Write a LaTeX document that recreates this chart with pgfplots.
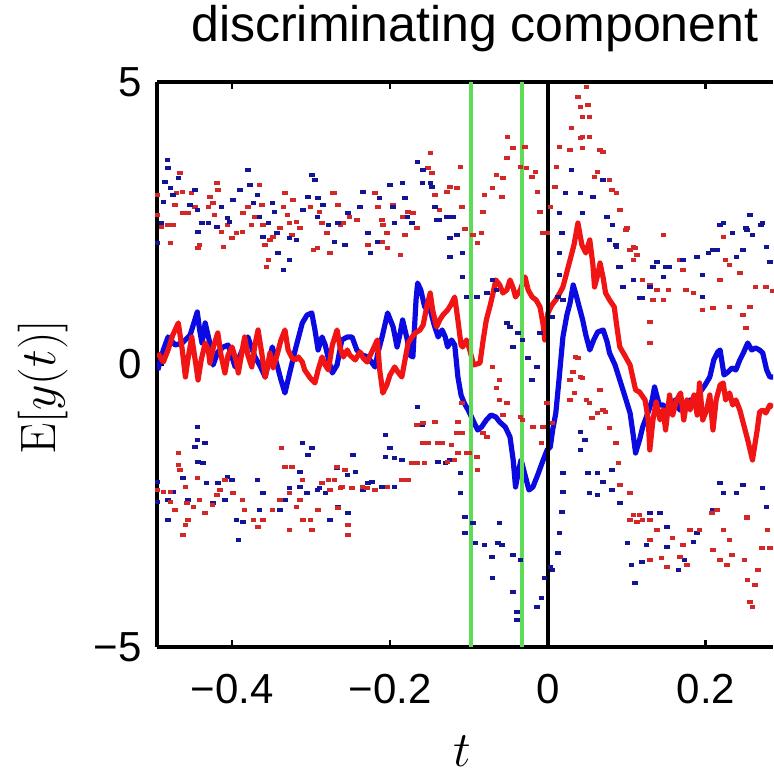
\documentclass[border=0pt]{standalone}
\usepackage[no-math]{fontspec}
\setmainfont{Liberation Sans}
\usepackage{pgfplots}
\pgfplotsset{compat=1.18}
\definecolor{lred}{RGB}{240,20,20}
\definecolor{lblue}{RGB}{10,10,225}
\definecolor{dred}{RGB}{210,40,40}
\definecolor{dblue}{RGB}{20,20,150}
\definecolor{vgreen}{RGB}{95,220,85}
\begin{document}
\begin{tikzpicture}
\begin{axis}[
  at={(0,0)}, anchor=south west,
  scale only axis, width=308pt, height=282.5pt,
  xmin=-0.495, xmax=0.285, ymin=-5, ymax=5,
  axis y line*=left,
  axis line style={line width=1.6pt, black},
  xtick={-0.4,-0.2,0,0.2}, xticklabels={−0.4,−0.2,0,0.2},
  ytick={-5,0,5}, yticklabels={−5,0,5},
  tick align=inside, major tick length=3.5pt,
  tick style={line width=1.4pt, black},
  xticklabel style={font=\fontsize{21}{24}\selectfont, anchor=base, inner sep=0pt, yshift=-28pt},
  yticklabel style={font=\fontsize{21}{24}\selectfont, anchor=east, inner sep=0pt, xshift=-7.5pt},
  title={discriminating component},
  title style={at={(axis description cs:0.516,1)}, anchor=base, yshift=14pt, font=\fontsize{25}{30}\selectfont},
  xlabel={$t$},
  xlabel style={at={(axis description cs:0.495,0)}, anchor=base, yshift=-59.5pt, font=\fontsize{28}{32}\selectfont},
  ylabel={$\mathrm{E}[y(t)]$},
  ylabel style={at={(axis description cs:-0.165,0.46)}, anchor=base, font=\fontsize{29}{33}\selectfont},
  every axis plot/.append style={line join=round},
]
% red upper band
\addplot[only marks, mark=square*, mark size=0.85pt, dred, mark options={xscale=1.3, line width=0pt}] coordinates {
(-0.494,3.00) (-0.494,2.65) (-0.489,2.43) (-0.481,2.47) (-0.475,2.47) (-0.466,3.39) (-0.470,3.04) (-0.463,3.05)
(-0.472,2.82) (-0.478,2.15) (-0.462,2.68) (-0.456,2.68) (-0.451,3.04) (-0.447,2.79) (-0.443,2.06) (-0.441,2.12)
(-0.428,2.96) (-0.430,2.79) (-0.424,2.86) (-0.419,3.21) (-0.418,3.09) (-0.422,2.65) (-0.413,2.35) (-0.411,2.08)
(-0.406,2.47) (-0.400,2.24) (-0.394,2.33) (-0.387,2.35) (-0.386,2.68) (-0.380,2.79) (-0.375,2.47) (-0.371,2.61)
(-0.365,3.18) (-0.362,2.82) (-0.361,2.47) (-0.358,2.12) (-0.354,1.85) (-0.356,1.73) (-0.352,2.20) (-0.348,2.26)
(-0.339,2.42) (-0.335,2.79) (-0.333,3.04) (-0.330,2.65) (-0.327,2.50) (-0.324,2.29) (-0.323,2.91) (-0.318,2.52)
(-0.314,2.42) (-0.301,2.79) (-0.297,2.03) (-0.292,2.06) (-0.289,2.70) (-0.286,2.50) (-0.280,2.33) (-0.276,1.97)
(-0.272,3.04) (-0.270,3.04) (-0.266,2.82) (-0.263,2.47) (-0.259,2.50) (-0.251,2.61) (-0.242,2.56) (-0.228,2.12)
(-0.219,3.04) (-0.215,2.79) (-0.210,2.56) (-0.209,2.47) (-0.210,2.17) (-0.204,2.33) (-0.203,2.06) (-0.197,2.79)
(-0.196,2.82) (-0.187,1.94) (-0.184,2.61) (-0.181,2.29) (-0.177,2.70) (-0.171,2.68) (-0.166,2.42) (-0.152,3.48)
(-0.149,3.74) (-0.147,3.39) (-0.143,3.00) (-0.137,2.73) (-0.128,3.05) (-0.124,3.14) (-0.115,3.12) (-0.111,3.50)
(-0.109,2.79) (-0.105,2.40) (-0.095,2.29) (-0.084,2.33) (-0.089,2.15) (-0.082,2.70) (-0.080,3.00) (-0.070,3.12)
(-0.065,3.35) (-0.057,3.30) (-0.058,2.96) (-0.052,3.65) (-0.051,4.03) (-0.044,3.83) (-0.035,3.50) (-0.029,3.85)
(-0.027,3.48) (-0.020,3.32) (-0.016,3.41) (-0.013,3.05) (-0.010,2.70) (-0.006,2.33) (-0.001,2.33) (0.003,2.79)
(0.009,3.14) (0.011,3.50) (0.015,3.85) (0.028,3.80) (0.030,4.19) (0.038,4.73) (0.041,4.56) (0.041,4.01)
(0.044,4.38) (0.044,4.03) (0.044,3.83) (0.049,4.91) (0.051,4.59) (0.053,4.38) (0.053,4.03) (0.059,3.32)
(0.063,3.41) (0.066,3.80) (0.070,3.76) (0.078,3.27) (0.081,3.09) (0.087,3.04) (0.091,2.73) (0.099,2.38)
(0.100,2.42) (0.104,2.03) (0.108,2.08) (0.108,1.85) (0.111,2.06) (0.113,1.94) (0.120,1.50) (0.129,1.41)
(0.129,0.75) (0.129,0.38) (0.133,1.14) (0.138,1.32) (0.146,1.14) (0.146,2.29) (0.153,1.32) (0.167,1.85)
(0.171,1.67) (0.175,1.32) (0.184,1.27) (0.196,0.96) (0.209,1.00) (0.218,1.50) (0.222,2.26) (0.225,1.85)
(0.230,1.02) (0.230,1.76) (0.243,1.62) (0.247,0.88) (0.251,0.65) (0.256,1.02) (0.263,1.37) (0.276,1.37) (0.284,1.30)
};
% blue upper band
\addplot[only marks, mark=square*, mark size=0.85pt, dblue, mark options={xscale=1.3, line width=0pt}] coordinates {
(-0.482,3.62) (-0.481,3.48) (-0.485,3.23) (-0.478,3.12) (-0.468,3.30) (-0.475,3.00) (-0.487,2.88) (-0.489,2.50)
(-0.494,2.15) (-0.453,2.82) (-0.444,2.73) (-0.447,3.09) (-0.438,2.50) (-0.443,2.35) (-0.430,2.50) (-0.419,2.43)
(-0.413,2.79) (-0.406,2.59) (-0.403,2.52) (-0.399,2.91) (-0.390,3.09) (-0.380,3.44) (-0.377,3.18) (-0.368,3.00)
(-0.373,2.86) (-0.365,2.61) (-0.361,2.26) (-0.354,2.50) (-0.349,2.86) (-0.346,2.70) (-0.343,2.33) (-0.342,1.97)
(-0.327,1.85) (-0.335,1.67) (-0.327,2.24) (-0.318,2.20) (-0.310,2.73) (-0.304,2.96) (-0.299,3.35) (-0.295,3.27)
(-0.291,2.95) (-0.292,2.61) (-0.285,2.82) (-0.278,2.47) (-0.270,2.17) (-0.266,2.50) (-0.257,2.12) (-0.253,2.68)
(-0.234,3.05) (-0.238,2.79) (-0.228,2.33) (-0.216,2.17) (-0.225,1.97) (-0.213,2.95) (-0.200,3.18) (-0.196,2.79)
(-0.194,2.50) (-0.184,3.21) (-0.181,2.95) (-0.178,2.61) (-0.172,2.50) (-0.165,3.58) (-0.158,3.44) (-0.159,3.21)
(-0.149,3.21) (-0.147,3.14) (-0.143,2.79) (-0.141,2.56) (-0.137,2.56) (-0.128,2.61) (-0.120,2.61) (-0.124,2.24)
(-0.115,2.29) (-0.124,1.90) (-0.108,1.97) (-0.108,1.55) (-0.103,1.19) (-0.090,1.19) (-0.077,1.27) (-0.070,1.50)
(-0.065,1.32) (-0.052,0.73) (-0.048,0.66) (-0.038,0.56) (-0.044,0.31) (-0.032,0.43) (-0.025,0.12) (-0.014,-0.04)
(-0.020,-0.27) (-0.010,0.56) (0.006,0.84) (0.019,1.14) (0.013,1.19) (0.015,1.58) (0.015,1.97) (0.018,2.33)
(0.015,2.68) (0.022,3.04) (0.030,3.44) (0.041,3.04) (0.044,2.68) (0.057,2.96) (0.070,3.27) (0.075,2.61)
(0.082,2.47) (0.078,2.20) (0.086,2.12) (0.087,2.08) (0.089,1.73) (0.091,1.73) (0.095,1.37) (0.108,1.50)
(0.116,1.18) (0.120,1.18) (0.129,1.37) (0.133,1.73) (0.138,1.81) (0.146,1.55) (0.149,1.73) (0.154,1.73)
(0.171,1.85) (0.189,1.90) (0.196,1.58) (0.196,1.19) (0.203,1.97) (0.209,2.03) (0.214,2.03) (0.218,2.47)
(0.222,2.50) (0.234,2.33) (0.239,1.90) (0.247,2.03) (0.251,2.42) (0.252,2.38) (0.256,2.65) (0.259,2.29)
(0.270,2.47) (0.272,2.50) (0.277,2.08) (0.281,1.81)
};
% blue lower band
\addplot[only marks, mark=square*, mark size=0.85pt, dblue, mark options={xscale=1.3, line width=0pt}] coordinates {
(-0.444,-1.11) (-0.444,-1.34) (-0.447,-1.46) (-0.434,-1.39) (-0.443,-1.73) (-0.437,-1.74) (-0.494,-2.08) (-0.462,-2.01)
(-0.475,-2.26) (-0.481,-2.40) (-0.494,-2.43) (-0.456,-2.40) (-0.432,-2.10) (-0.424,-2.45) (-0.418,-2.10) (-0.406,-1.99)
(-0.400,-2.04) (-0.409,-2.40) (-0.481,-2.75) (-0.394,-2.75) (-0.386,-2.79) (-0.392,-3.11) (-0.368,-2.04) (-0.361,-2.27)
(-0.365,-2.58) (-0.361,-2.75) (-0.339,-2.58) (-0.333,-2.40) (-0.327,-2.19) (-0.314,-2.17) (-0.311,-1.39) (-0.304,-1.60)
(-0.299,-1.48) (-0.314,-1.90) (-0.305,-2.27) (-0.292,-2.22) (-0.282,-2.27) (-0.276,-2.75) (-0.266,-2.52) (-0.254,-1.96)
(-0.253,-2.63) (-0.289,-2.19) (-0.267,-1.83) (-0.247,-1.60) (-0.244,-1.90) (-0.228,-2.10) (-0.223,-2.08) (-0.234,-2.22)
(-0.210,-2.17) (-0.206,-1.25) (-0.206,-1.64) (-0.200,-1.48) (-0.194,-1.65) (-0.185,-1.69) (-0.194,-2.17) (-0.165,-0.75)
(-0.159,-1.07) (-0.139,-1.73) (-0.130,-1.74) (-0.124,-1.69) (-0.111,-1.92) (-0.111,-2.27) (-0.105,-2.70) (-0.095,-2.81)
(-0.105,-2.98) (-0.092,-3.16) (-0.080,-3.19) (-0.071,-3.41) (-0.070,-3.78) (-0.063,-3.16) (-0.061,-2.81) (-0.058,-3.19)
(-0.044,-4.03) (-0.044,-3.37) (-0.039,-4.38) (-0.039,-4.52) (-0.035,-3.46) (-0.014,-4.29) (-0.008,-4.13) (-0.004,-3.78)
(0.003,-3.58) (0.013,-3.34) (0.006,-3.64) (0.015,-2.98) (0.018,-2.61) (0.019,-2.26) (0.019,-1.92) (0.041,-1.19)
(0.047,-1.34) (0.041,-1.51) (0.051,-1.92) (0.063,-1.92) (0.053,-2.27) (0.063,-2.31) (0.070,-2.08) (0.081,-1.87)
(0.081,-2.22) (0.091,-2.45) (0.101,-3.16) (0.106,-3.55) (0.110,-3.87) (0.119,-3.50) (0.125,-3.19) (0.129,-2.63)
(0.142,-2.63) (0.151,-2.88) (0.151,-3.23) (0.165,-3.64) (0.173,-3.46) (0.184,-3.14) (0.189,-2.98) (0.209,-2.58)
(0.218,-2.10) (0.222,-2.27) (0.239,-2.27) (0.247,-2.13) (0.272,-2.19) (0.277,-2.52)
};
% red lower band
\addplot[only marks, mark=square*, mark size=0.85pt, dred, mark options={xscale=1.3, line width=0pt}] coordinates {
(-0.494,-2.22) (-0.487,-2.26) (-0.478,-2.26) (-0.468,-1.57) (-0.468,-1.78) (-0.466,-1.87) (-0.459,-2.17) (-0.472,-2.58)
(-0.478,-2.43) (-0.459,-2.84) (-0.456,-2.75) (-0.462,-3.02) (-0.457,-2.45) (-0.444,-2.01) (-0.449,-2.52) (-0.441,-2.40)
(-0.434,-2.63) (-0.425,-2.49) (-0.419,-2.31) (-0.415,-2.22) (-0.409,-2.04) (-0.399,-2.27) (-0.387,-2.40) (-0.384,-2.58)
(-0.373,-2.75) (-0.367,-2.88) (-0.361,-2.75) (-0.349,-2.58) (-0.339,-2.40) (-0.327,-2.27) (-0.327,-2.93) (-0.318,-2.52)
(-0.314,-2.40) (-0.310,-2.75) (-0.301,-2.75) (-0.299,-2.93) (-0.291,-2.58) (-0.286,-2.10) (-0.276,-2.22) (-0.270,-2.04)
(-0.263,-2.19) (-0.257,-1.87) (-0.266,-2.54) (-0.253,-2.84) (-0.253,-3.02) (-0.337,-1.48) (-0.333,-1.81) (-0.324,-1.81)
(-0.311,-2.04) (-0.278,-2.04) (-0.267,-1.81) (-0.261,-2.17) (-0.248,-2.19) (-0.235,-2.17) (-0.229,-2.19) (-0.219,-2.22)
(-0.203,-2.17) (-0.185,-2.04) (-0.177,-2.04) (-0.172,-1.74) (-0.165,-1.74) (-0.156,-1.74) (-0.159,-1.39) (-0.152,-1.39)
(-0.143,-1.02) (-0.139,-1.39) (-0.134,-1.39) (-0.122,-1.42) (-0.127,-1.73) (-0.118,-1.69) (-0.114,-1.57) (-0.115,-1.21)
(-0.114,-1.02) (-0.109,-0.68) (-0.166,-1.07) (-0.158,-1.04) (-0.108,-1.21) (-0.103,-1.57) (-0.099,-1.57) (-0.090,-1.64)
(-0.089,-1.87) (-0.082,-1.21) (-0.077,-1.28) (-0.070,-0.04) (-0.061,-0.27) (-0.065,-0.42) (-0.061,-0.63) (-0.052,-0.68)
(-0.057,-0.89) (-0.035,-0.93) (-0.032,-0.98) (-0.019,-1.11) (-0.006,-1.11) (-0.008,-1.39) (-0.001,-0.68) (0.006,-1.04)
(0.028,-0.27) (0.028,-0.63) (0.032,-0.13) (0.035,0.13) (0.038,0.12) (0.034,-0.50) (0.041,-0.22) (0.044,-0.24)
(0.049,-0.63) (0.053,-0.68) (0.056,-0.95) (0.063,-0.86) (0.066,-0.45) (0.070,-0.81) (0.073,-0.84) (0.078,-1.12)
(0.086,-1.39) (0.089,-1.74) (0.091,-2.13) (0.104,-2.27) (0.104,-2.75) (0.108,-2.66) (0.113,-2.79) (0.116,-2.66)
(0.120,-2.75) (0.129,-2.75) (0.129,-3.11) (0.129,-3.46) (0.138,-2.93) (0.144,-3.42) (0.151,-3.58) (0.158,-3.07)
(0.167,-3.41) (0.171,-3.19) (0.176,-3.55) (0.180,-2.93) (0.192,-2.93) (0.208,-2.63) (0.214,-2.58) (0.209,-3.28)
(0.218,-3.46) (0.222,-2.93) (0.227,-3.55) (0.230,-3.11) (0.233,-3.37) (0.249,-3.46) (0.252,-2.71) (0.253,-3.81)
(0.256,-4.20) (0.259,-4.29) (0.262,-3.90) (0.266,-3.64) (0.271,-3.25) (0.278,-2.93) (0.281,-3.25)
};
% blue mean
\addplot[lblue, line width=2.6pt] coordinates {
(-0.494,-0.097) (-0.487,0.257) (-0.481,0.487) (-0.472,0.345) (-0.463,0.381) (-0.453,0.522) (-0.444,0.929) (-0.441,0.611)
(-0.438,0.381) (-0.434,0.735) (-0.429,0.434) (-0.424,-0.009) (-0.418,0.221) (-0.411,0.310) (-0.405,0.345) (-0.396,-0.044)
(-0.387,0.257) (-0.380,0.487) (-0.375,0.292) (-0.371,0.133) (-0.365,-0.009) (-0.358,-0.221) (-0.353,0.080) (-0.349,0.310)
(-0.343,-0.009) (-0.338,-0.274) (-0.333,-0.504) (-0.327,-0.150) (-0.320,0.257) (-0.311,0.735) (-0.305,0.876) (-0.299,0.912)
(-0.295,0.611) (-0.291,0.257) (-0.286,0.487) (-0.282,0.345) (-0.277,0.044) (-0.273,-0.150) (-0.267,-0.009) (-0.261,0.434)
(-0.254,0.487) (-0.248,0.487) (-0.242,0.257) (-0.235,0.168) (-0.228,0.133) (-0.219,-0.044) (-0.215,0.221) (-0.210,0.487)
(-0.205,0.788) (-0.203,0.912) (-0.196,0.664) (-0.191,0.310) (-0.187,0.558) (-0.184,0.788) (-0.178,0.434) (-0.175,0.168)
(-0.171,0.133) (-0.167,1.142) (-0.165,1.442) (-0.161,1.319) (-0.156,1.018) (-0.149,0.965) (-0.144,0.699) (-0.139,0.487)
(-0.134,0.611) (-0.130,0.487) (-0.127,0.310) (-0.122,0.434) (-0.118,0.345) (-0.114,-0.221) (-0.110,-0.540) (-0.106,-0.681)
(-0.101,-0.805) (-0.095,-0.982) (-0.089,-1.159) (-0.084,-1.106) (-0.078,-0.982) (-0.072,-0.894) (-0.066,-0.929) (-0.061,-1.018)
(-0.054,-1.106) (-0.048,-1.283) (-0.044,-1.690) (-0.041,-2.168) (-0.037,-1.867) (-0.034,-1.690) (-0.029,-1.956) (-0.024,-2.221)
(-0.019,-2.168) (-0.013,-1.956) (-0.006,-1.690) (-0.001,-1.513) (0.003,-1.460) (0.006,-1.159) (0.010,-0.858) (0.014,-0.274)
(0.019,0.487) (0.024,0.876) (0.028,1.088) (0.032,1.407) (0.035,1.265) (0.039,1.053) (0.044,0.788) (0.048,0.522)
(0.053,0.257) (0.058,0.434) (0.063,0.575) (0.070,0.611) (0.075,0.398) (0.078,0.204) (0.085,-0.009) (0.091,-0.274)
(0.097,-0.540) (0.104,-0.858) (0.108,-1.248) (0.111,-1.566) (0.116,-1.336) (0.120,-1.106) (0.127,-0.841) (0.132,-0.628)
(0.135,-0.398) (0.141,-0.717) (0.146,-0.717) (0.154,-0.858) (0.161,-0.628) (0.167,-0.805) (0.173,-0.717) (0.180,-0.628)
(0.187,-0.628) (0.192,-0.504) (0.199,-0.363) (0.205,-0.221) (0.210,0.080) (0.215,0.221) (0.218,0.257) (0.223,-0.186)
(0.228,-0.133) (0.233,-0.062) (0.238,-0.097) (0.243,0.080) (0.248,0.221) (0.253,0.381) (0.258,0.257) (0.263,0.292)
(0.268,0.257) (0.272,0.204) (0.277,-0.097) (0.281,-0.221) (0.285,-0.221)
};
% red mean
\addplot[lred, line width=2.6pt] coordinates {
(-0.494,0.204) (-0.487,0.044) (-0.481,0.257) (-0.475,0.522) (-0.468,0.735) (-0.463,0.257) (-0.459,-0.221) (-0.456,0.080)
(-0.451,0.487) (-0.447,0.115) (-0.443,-0.274) (-0.439,0.080) (-0.434,0.381) (-0.430,0.257) (-0.428,0.027) (-0.423,0.345)
(-0.418,0.558) (-0.414,0.168) (-0.409,-0.150) (-0.405,0.168) (-0.400,0.310) (-0.395,0.080) (-0.392,-0.150) (-0.387,0.257)
(-0.384,0.487) (-0.380,0.168) (-0.375,-0.044) (-0.371,0.345) (-0.367,0.611) (-0.362,0.168) (-0.358,-0.221) (-0.354,0.044)
(-0.352,0.204) (-0.348,-0.062) (-0.343,0.168) (-0.338,0.434) (-0.333,0.611) (-0.329,0.257) (-0.324,0.115) (-0.320,0.080)
(-0.316,0.133) (-0.311,0.044) (-0.308,-0.097) (-0.301,-0.239) (-0.295,-0.327) (-0.291,-0.097) (-0.286,0.133) (-0.282,-0.009)
(-0.278,-0.097) (-0.273,0.345) (-0.267,0.611) (-0.263,0.292) (-0.259,0.133) (-0.254,0.257) (-0.251,0.168) (-0.244,0.080)
(-0.238,0.221) (-0.234,0.115) (-0.229,0.044) (-0.223,0.221) (-0.216,0.434) (-0.213,-0.097) (-0.209,-0.504) (-0.204,-0.363)
(-0.200,-0.186) (-0.194,-0.044) (-0.190,-0.133) (-0.185,-0.221) (-0.181,0.080) (-0.177,0.381) (-0.172,0.487) (-0.168,0.558)
(-0.162,0.611) (-0.158,0.699) (-0.153,1.053) (-0.149,1.265) (-0.146,0.965) (-0.141,0.664) (-0.137,0.788) (-0.133,0.876)
(-0.127,0.965) (-0.123,1.053) (-0.118,1.195) (-0.114,0.788) (-0.110,0.345) (-0.108,0.310) (-0.103,0.434) (-0.099,0.257)
(-0.094,-0.009) (-0.086,0.027) (-0.082,0.434) (-0.078,0.788) (-0.073,1.053) (-0.070,1.230) (-0.066,1.496) (-0.061,1.407)
(-0.057,1.265) (-0.052,1.319) (-0.048,1.496) (-0.044,1.354) (-0.041,1.195) (-0.035,1.319) (-0.029,1.549) (-0.025,1.319)
(-0.020,1.195) (-0.015,1.142) (-0.010,1.018) (-0.006,0.699) (-0.004,0.434) (0.000,0.912) (0.005,1.053) (0.010,1.142)
(0.015,1.265) (0.019,1.372) (0.023,1.584) (0.028,1.850) (0.033,2.115) (0.038,2.504) (0.043,2.115) (0.048,1.973)
(0.053,2.204) (0.057,1.761) (0.059,1.372) (0.063,1.584) (0.066,1.796) (0.070,1.531) (0.073,1.265) (0.078,1.142)
(0.084,1.018) (0.087,0.699) (0.091,0.310) (0.097,0.168) (0.104,-0.009) (0.111,-0.451) (0.116,-0.487) (0.123,-0.628)
(0.127,-0.982) (0.129,-1.513) (0.133,-0.982) (0.137,-0.664) (0.142,-0.982) (0.146,-0.805) (0.149,-1.159) (0.154,-0.540)
(0.158,-0.894) (0.163,-0.628) (0.168,-0.504) (0.172,-0.982) (0.176,-0.628) (0.180,-0.805) (0.185,-0.540) (0.189,-0.894)
(0.192,-0.327) (0.196,-0.982) (0.201,-0.805) (0.205,-0.540) (0.209,-1.159) (0.213,-0.628) (0.218,-0.363) (0.222,-0.327)
(0.225,-0.628) (0.230,-0.504) (0.234,-0.717) (0.238,-0.628) (0.243,-0.805) (0.248,-1.071) (0.253,-1.336) (0.259,-1.690)
(0.265,-1.159) (0.268,-0.841) (0.272,-0.805) (0.276,-0.858) (0.281,-0.717) (0.285,-0.752)
};
% event markers
\addplot[vgreen, line width=2pt] coordinates {(-0.098,-5) (-0.098,5)};
\addplot[vgreen, line width=2pt] coordinates {(-0.033,-5) (-0.033,5)};
\addplot[black, line width=1.8pt] coordinates {(0,-5) (0,5)};
\end{axis}
\pgfresetboundingbox
\path[use as bounding box] (-78.5pt,-64pt) rectangle (308pt,323.5pt);
\end{tikzpicture}
\end{document}
